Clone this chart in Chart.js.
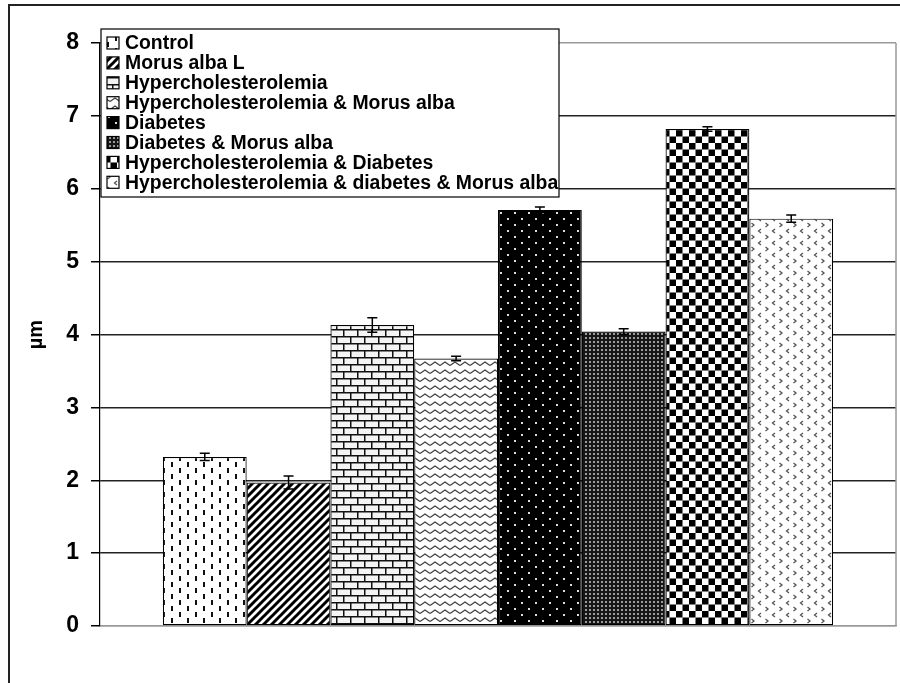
<!DOCTYPE html>
<html lang="en">
<head>
    <meta charset="UTF-8">
    <title>Bar chart - µm</title>
    <script src="https://cdn.jsdelivr.net/npm/chart.js"></script>
    <style>
        * { margin: 0; padding: 0; box-sizing: border-box; }
        body { background: #fff; width: 900px; height: 683px; overflow: hidden; }
        .chart-box { position: relative; width: 900px; height: 683px; }
    </style>
</head>
<body>
    <div class="chart-box">
        <canvas id="barChart" width="900" height="683"></canvas>
    </div>

    <script>
        // Data
        const groups = ['Control', 'Morus alba L', 'Hypercholesterolemia', 'Hypercholesterolemia & Morus alba',
            'Diabetes', 'Diabetes & Morus alba', 'Hypercholesterolemia & Diabetes',
            'Hypercholesterolemia & diabetes & Morus alba'];
        const means = [2.32, 1.97, 4.13, 3.67, 5.71, 4.04, 6.82, 5.59];
        const errors = [0.05, 0.09, 0.10, 0.03, 0.04, 0.04, 0.03, 0.05];
        const yTicks = [0, 1, 2, 3, 4, 5, 6, 7, 8];

        const FONT = "'Liberation Sans', Arial, sans-serif";

        // small tile -> canvas pattern
        function makePattern(w, h, draw) {
            const c = document.createElement('canvas');
            c.width = w; c.height = h;
            const g = c.getContext('2d');
            draw(g, w, h);
            return g.createPattern(c, 'repeat');
        }

        const patterns = [
            // vertical dashes
            makePattern(16, 12, (g) => {
                g.fillStyle = '#fff'; g.fillRect(0, 0, 16, 12);
                g.fillStyle = '#111';
                g.fillRect(3, 0, 2, 5);
                g.fillRect(11, 6, 2, 5);
            }),
            // wide diagonal stripes
            makePattern(8, 8, (g) => {
                g.fillStyle = '#fff'; g.fillRect(0, 0, 8, 8);
                g.strokeStyle = '#000'; g.lineWidth = 3;
                g.beginPath();
                g.moveTo(-2, 10); g.lineTo(10, -2);
                g.moveTo(-6, 6); g.lineTo(6, -6);
                g.moveTo(2, 14); g.lineTo(14, 2);
                g.stroke();
            }),
            // bricks
            makePattern(14, 14, (g) => {
                g.fillStyle = '#f4f4f4'; g.fillRect(0, 0, 14, 14);
                g.fillStyle = '#111';
                g.fillRect(0, 0, 14, 1.5);
                g.fillRect(0, 7, 14, 1.5);
                g.fillRect(0, 0, 1.5, 7);
                g.fillRect(7, 7, 1.5, 7);
            }),
            // zigzag
            makePattern(10, 8, (g) => {
                g.fillStyle = '#fff'; g.fillRect(0, 0, 10, 8);
                g.strokeStyle = '#444'; g.lineWidth = 1.4;
                g.beginPath();
                g.moveTo(0, 5.5); g.lineTo(5, 2); g.lineTo(10, 5.5);
                g.stroke();
            }),
            // black with white dots
            makePattern(14, 12, (g) => {
                g.fillStyle = '#000'; g.fillRect(0, 0, 14, 12);
                g.fillStyle = '#ddd';
                g.fillRect(3, 2, 2, 2);
                g.fillRect(10, 8, 2, 2);
            }),
            // dense grid
            makePattern(4, 4, (g) => {
                g.fillStyle = '#151515'; g.fillRect(0, 0, 4, 4);
                g.fillStyle = '#9a9a9a'; g.fillRect(1, 1, 2, 2);
            }),
            // checkerboard
            makePattern(13, 13, (g) => {
                g.fillStyle = '#fff'; g.fillRect(0, 0, 13, 13);
                g.fillStyle = '#000';
                g.fillRect(0, 0, 6.5, 6.5);
                g.fillRect(6.5, 6.5, 6.5, 6.5);
            }),
            // small chevrons
            makePattern(14, 12, (g) => {
                g.fillStyle = '#fff'; g.fillRect(0, 0, 14, 12);
                g.strokeStyle = '#555'; g.lineWidth = 1.3;
                g.beginPath();
                g.moveTo(5, 1); g.lineTo(2.5, 3); g.lineTo(5, 5);
                g.moveTo(9.5, 7); g.lineTo(12, 9); g.lineTo(9.5, 11);
                g.stroke();
            })
        ];

        const datasets = groups.map((name, i) => ({
            label: name,
            data: [means[i]],
            backgroundColor: patterns[i],
            borderColor: '#000',
            borderWidth: 1.2,
            borderSkipped: false
        }));

        // error bars
        const errorBars = {
            id: 'errorBars',
            afterDatasetsDraw(chart) {
                const ctx = chart.ctx;
                const y = chart.scales.y;
                ctx.save();
                ctx.strokeStyle = '#000';
                ctx.lineWidth = 1.5;
                chart.data.datasets.forEach((ds, i) => {
                    const bar = chart.getDatasetMeta(i).data[0];
                    const top = y.getPixelForValue(means[i] + errors[i]);
                    const bot = y.getPixelForValue(means[i] - errors[i]);
                    ctx.beginPath();
                    ctx.moveTo(bar.x, top); ctx.lineTo(bar.x, bot);
                    ctx.moveTo(bar.x - 5, top); ctx.lineTo(bar.x + 5, top);
                    ctx.moveTo(bar.x - 5, bot); ctx.lineTo(bar.x + 5, bot);
                    ctx.stroke();
                });
                ctx.restore();
            }
        };

        // frame, right border and boxed legend
        const frameAndLegend = {
            id: 'frameAndLegend',
            beforeDraw(chart) {
                const ctx = chart.ctx;
                ctx.save();
                ctx.fillStyle = '#fff';
                ctx.fillRect(0, 0, chart.width, chart.height);
                ctx.restore();
            },
            afterDraw(chart) {
                const ctx = chart.ctx;
                const a = chart.chartArea;
                ctx.save();
                // outer frame
                ctx.strokeStyle = '#222';
                ctx.lineWidth = 2;
                ctx.beginPath();
                ctx.moveTo(9, 683); ctx.lineTo(9, 5); ctx.lineTo(900, 5);
                ctx.stroke();
                // plot right border
                ctx.strokeStyle = '#999';
                ctx.lineWidth = 1.5;
                ctx.beginPath();
                ctx.moveTo(a.right, a.top); ctx.lineTo(a.right, a.bottom);
                ctx.stroke();

                // legend box
                const lx = 101, ly = 29, lw = 458, lh = 168;
                ctx.fillStyle = '#fff';
                ctx.fillRect(lx, ly, lw, lh);
                ctx.strokeStyle = '#000';
                ctx.lineWidth = 1.2;
                ctx.strokeRect(lx, ly, lw, lh);
                ctx.font = 'bold 19.4px ' + FONT;
                ctx.textBaseline = 'middle';
                groups.forEach((name, i) => {
                    const cy = 43 + i * 19.9;
                    ctx.fillStyle = patterns[i];
                    ctx.fillRect(107, cy - 6, 12, 12);
                    ctx.strokeStyle = '#000';
                    ctx.lineWidth = 1.2;
                    ctx.strokeRect(107, cy - 6, 12, 12);
                    ctx.fillStyle = '#000';
                    ctx.fillText(name, 125, cy + 1);
                });
                ctx.restore();
            }
        };

        const chart = new Chart(document.getElementById('barChart').getContext('2d'), {
            type: 'bar',
            data: { labels: [''], datasets },
            options: {
                responsive: false,
                animation: false,
                categoryPercentage: 0.842,
                barPercentage: 1.0,
                layout: { padding: { top: 43, right: 4, bottom: 57, left: 0 } },
                plugins: {
                    legend: { display: false },
                    tooltip: { enabled: false }
                },
                scales: {
                    x: {
                        grid: { display: false },
                        ticks: { display: false },
                        border: { color: '#999', width: 1.5 },
                        afterFit(scale) { scale.height = 0; }
                    },
                    y: {
                        min: 0,
                        max: 8,
                        afterBuildTicks(scale) { scale.ticks = yTicks.map(v => ({ value: v })); },
                        afterFit(scale) { scale.width = 100; },
                        ticks: {
                            color: '#000',
                            padding: 12,
                            font: { family: FONT, size: 23, weight: 'bold' }
                        },
                        grid: {
                            color: (c) => (c.tick && (c.tick.value === 8 || c.tick.value === 0)) ? '#999' : '#222',
                            lineWidth: 1.5,
                            tickColor: '#000',
                            tickLength: 9
                        },
                        border: { color: '#000', width: 1.2 },
                        title: {
                            display: true,
                            text: 'µm',
                            color: '#000',
                            padding: { top: 24, bottom: 0 },
                            font: { family: FONT, size: 20, weight: 'bold' }
                        }
                    }
                }
            },
            plugins: [frameAndLegend, errorBars]
        });
    </script>
</body>
</html>
